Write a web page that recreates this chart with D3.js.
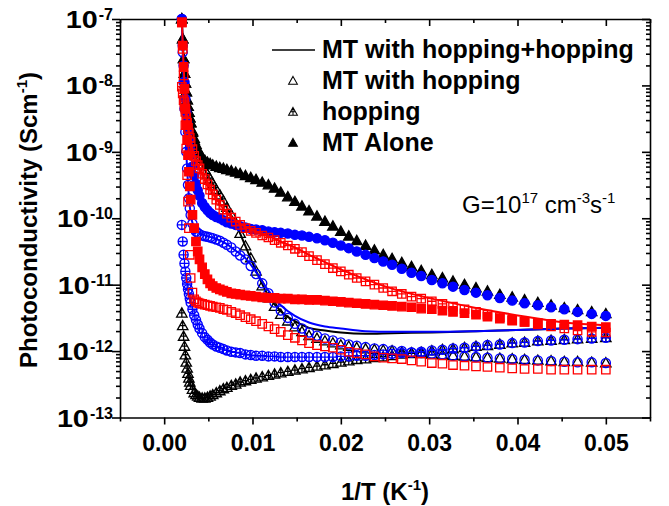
<!DOCTYPE html>
<meta charset="utf-8">
<style>
body { margin: 0; background: #fff; }
svg text { font-family: "Liberation Sans", Arial, sans-serif; fill: #000; }
.axis path, .axis line { stroke: #000; stroke-width: 1.6; }
</style>
<body>
<script src="https://d3js.org/d3.v7.min.js"></script>
<script>

// 1/T (K^-1) of the marker points
var invT = [0.0020, 0.0021, 0.0022, 0.0023, 0.0024, 0.0025, 0.0026, 0.0027, 0.0028, 0.0029, 0.0030,
  0.0032, 0.0034, 0.0036, 0.0038, 0.0040,
  0.0043, 0.0046, 0.0049, 0.0052, 0.0055,
  0.0059, 0.0063, 0.0067, 0.0071,
  0.0076, 0.0081, 0.0086,
  0.0092, 0.0098,
  0.0104, 0.0111, 0.0118, 0.0125, 0.0132,
  0.0140, 0.0148, 0.0156, 0.0164,
  0.0173, 0.0182, 0.0191, 0.0200,
  0.0209, 0.0218, 0.0228, 0.0238, 0.0248, 0.0258,
  0.0269, 0.0280, 0.0291, 0.0303, 0.0315, 0.0327,
  0.0340, 0.0353, 0.0366, 0.0380, 0.0394, 0.0408,
  0.0423, 0.0438, 0.0453, 0.0468, 0.0484, 0.0500];

// log10 of photoconductivity (S/cm), one value per invT entry
var blackAlone = [-7.00, -7.30, -7.60, -7.82, -7.97, -8.10, -8.22, -8.32, -8.41, -8.49, -8.56,
  -8.69, -8.80, -8.89, -8.96, -9.02,
  -9.08, -9.13, -9.16, -9.18, -9.20,
  -9.22, -9.24, -9.25, -9.27,
  -9.29, -9.31, -9.33,
  -9.36, -9.39,
  -9.42, -9.46, -9.50, -9.55, -9.61,
  -9.68, -9.75, -9.82, -9.89,
  -9.97, -10.05, -10.12, -10.20,
  -10.27, -10.34, -10.41, -10.48, -10.55, -10.61,
  -10.67, -10.73, -10.79, -10.85, -10.90, -10.95,
  -11.00, -11.05, -11.10, -11.15, -11.19, -11.23,
  -11.27, -11.31, -11.35, -11.38, -11.41, -11.44];

var blackWith = [-7.00, -7.30, -7.60, -7.82, -7.97, -8.10, -8.22, -8.32, -8.41, -8.49, -8.57,
  -8.71, -8.83, -8.93, -9.02, -9.10,
  -9.19, -9.27, -9.34, -9.41, -9.48,
  -9.57, -9.65, -9.74, -9.84,
  -9.95, -10.08, -10.23,
  -10.42, -10.60,
  -10.80, -11.02, -11.20, -11.33, -11.45,
  -11.55, -11.64, -11.71, -11.77,
  -11.81, -11.85, -11.88, -11.91,
  -11.93, -11.95, -11.97, -11.98, -11.99, -12.00,
  -12.02, -12.03, -12.04, -12.05, -12.06, -12.07,
  -12.08, -12.09, -12.10, -12.11, -12.12, -12.13,
  -12.14, -12.15, -12.16, -12.16, -12.17, -12.18];

var blackHop = [-11.43, -11.62, -11.78, -11.93, -12.06, -12.17, -12.26, -12.34, -12.41, -12.47, -12.52,
  -12.58, -12.63, -12.66, -12.68, -12.70,
  -12.71, -12.71, -12.70, -12.68, -12.66,
  -12.63, -12.60, -12.57, -12.55,
  -12.52, -12.50, -12.47,
  -12.45, -12.43,
  -12.41, -12.39, -12.37, -12.35, -12.33,
  -12.31, -12.29, -12.27, -12.25,
  -12.23, -12.21, -12.19, -12.17,
  -12.15, -12.13, -12.12, -12.10, -12.09, -12.07,
  -12.05, -12.04, -12.02, -12.00, -11.98, -11.97,
  -11.95, -11.93, -11.92, -11.90, -11.88, -11.87,
  -11.85, -11.84, -11.83, -11.82, -11.81, -11.80];

var blueAlone = [-7.00, -7.40, -7.70, -7.95, -8.20, -8.40, -8.55, -8.70, -8.83, -8.95, -9.05,
  -9.22, -9.36, -9.48, -9.58, -9.66,
  -9.77, -9.83, -9.88, -9.92, -9.95,
  -9.98, -10.00, -10.03, -10.06,
  -10.08, -10.10, -10.12,
  -10.14, -10.16,
  -10.17, -10.18, -10.20, -10.21, -10.22,
  -10.23, -10.25, -10.26, -10.28,
  -10.30, -10.33, -10.37, -10.41,
  -10.45, -10.50, -10.55, -10.60, -10.65, -10.70,
  -10.76, -10.82, -10.87, -10.93, -10.98, -11.03,
  -11.08, -11.12, -11.16, -11.20, -11.24, -11.28,
  -11.31, -11.34, -11.37, -11.41, -11.44, -11.47];

var blueWith = [-7.00, -7.50, -7.95, -8.35, -8.70, -9.00, -9.25, -9.50, -9.70, -9.85, -9.95,
  -10.08, -10.16, -10.20, -10.22, -10.24,
  -10.26, -10.27, -10.28, -10.29, -10.30,
  -10.32, -10.34, -10.37, -10.40,
  -10.44, -10.50, -10.56,
  -10.62, -10.72,
  -10.84, -10.98, -11.13, -11.27, -11.39,
  -11.50, -11.59, -11.66, -11.72,
  -11.77, -11.81, -11.84, -11.87,
  -11.90, -11.92, -11.94, -11.96, -11.97, -11.99,
  -12.00, -12.02, -12.03, -12.04, -12.05, -12.07,
  -12.08, -12.09, -12.10, -12.11, -12.12, -12.13,
  -12.14, -12.15, -12.16, -12.17, -12.17, -12.18];

var blueHop = [-10.10, -10.35, -10.55, -10.68, -10.80, -10.90, -10.99, -11.07, -11.14, -11.21, -11.27,
  -11.37, -11.46, -11.53, -11.60, -11.66,
  -11.73, -11.79, -11.83, -11.87, -11.90,
  -11.93, -11.95, -11.97, -11.99,
  -12.01, -12.02, -12.03,
  -12.05, -12.06,
  -12.07, -12.07, -12.08, -12.08, -12.09,
  -12.09, -12.09, -12.09, -12.09,
  -12.09, -12.09, -12.09, -12.08,
  -12.08, -12.07, -12.07, -12.06, -12.05, -12.04,
  -12.03, -12.02, -12.01, -11.99, -11.98, -11.96,
  -11.95, -11.93, -11.91, -11.90, -11.88, -11.87,
  -11.85, -11.84, -11.83, -11.82, -11.81, -11.80];

var redAlone = [-7.05, -7.40, -7.72, -8.05, -8.35, -8.60, -8.82, -9.05, -9.30, -9.52, -9.72,
  -9.95, -10.15, -10.35, -10.50, -10.62,
  -10.74, -10.84, -10.92, -10.98, -11.02,
  -11.05, -11.07, -11.09, -11.11,
  -11.13, -11.14, -11.15,
  -11.16, -11.17,
  -11.18, -11.19, -11.20, -11.20, -11.21,
  -11.21, -11.22, -11.22, -11.23,
  -11.23, -11.24, -11.25, -11.26,
  -11.27, -11.28, -11.29, -11.30, -11.31, -11.32,
  -11.33, -11.34, -11.36, -11.37, -11.39, -11.41,
  -11.43, -11.45, -11.48, -11.51, -11.54, -11.56,
  -11.58, -11.59, -11.60, -11.61, -11.63, -11.64];

var redWith = [-7.05, -7.45, -7.85, -8.25, -8.60, -8.95, -9.35, -9.75, -10.15, -10.55, -10.90,
  -11.12, -11.22, -11.25, -11.27, -11.28,
  -11.29, -11.30, -11.31, -11.32, -11.33,
  -11.34, -11.35, -11.37, -11.38,
  -11.41, -11.43, -11.46,
  -11.49, -11.52,
  -11.55, -11.59, -11.63, -11.67, -11.71,
  -11.76, -11.80, -11.84, -11.88,
  -11.91, -11.93, -11.95, -11.98,
  -12.01, -12.03, -12.05, -12.08, -12.10, -12.11,
  -12.12, -12.14, -12.16, -12.18, -12.19, -12.21,
  -12.22, -12.23, -12.24, -12.25, -12.26, -12.27,
  -12.27, -12.28, -12.28, -12.28, -12.28, -12.28];

var redHop = [-8.02, -8.12, -8.22, -8.31, -8.40, -8.48, -8.56, -8.64, -8.72, -8.79, -8.85,
  -8.96, -9.06, -9.14, -9.20, -9.25,
  -9.33, -9.41, -9.49, -9.57, -9.64,
  -9.72, -9.80, -9.87, -9.93,
  -9.99, -10.05, -10.10,
  -10.15, -10.19,
  -10.22, -10.26, -10.29, -10.33, -10.37,
  -10.41, -10.46, -10.51, -10.57,
  -10.63, -10.69, -10.75, -10.80,
  -10.85, -10.90, -10.95, -11.00, -11.05, -11.10,
  -11.14, -11.18, -11.21, -11.25, -11.29, -11.33,
  -11.37, -11.41, -11.45, -11.49, -11.53, -11.56,
  -11.60, -11.63, -11.66, -11.69, -11.71, -11.72];

// solid "MT with hopping+hopping" curves, read on a coarser grid
var lineInvT = [0.0020, 0.0021, 0.0022, 0.0023, 0.0024, 0.0025, 0.0026, 0.0027, 0.0028, 0.0030,
  0.0034, 0.0040, 0.0049, 0.0059, 0.0071, 0.0081, 0.0092, 0.0104, 0.0118, 0.0132,
  0.0148, 0.0164, 0.0182, 0.0200, 0.0228, 0.0258, 0.0303, 0.0353, 0.0408, 0.0453, 0.0500];
var blackSum = [-7.00, -7.30, -7.60, -7.82, -7.97, -8.10, -8.22, -8.32, -8.41, -8.57,
  -8.83, -9.10, -9.34, -9.57, -9.84, -10.08, -10.42, -10.79, -11.17, -11.40,
  -11.55, -11.65, -11.69, -11.72, -11.74, -11.73, -11.72, -11.70, -11.68, -11.66, -11.65];
var blueSum = [-7.00, -7.50, -7.95, -8.35, -8.70, -9.00, -9.25, -9.49, -9.68, -9.93,
  -10.14, -10.22, -10.27, -10.31, -10.39, -10.49, -10.60, -10.81, -11.09, -11.31,
  -11.47, -11.57, -11.63, -11.66, -11.70, -11.71, -11.71, -11.70, -11.68, -11.66, -11.65];
var redSum = [-7.00, -7.37, -7.70, -7.98, -8.19, -8.35, -8.48, -8.59, -8.69, -8.85,
  -9.06, -9.25, -9.48, -9.71, -9.92, -10.04, -10.13, -10.20, -10.27, -10.35,
  -10.44, -10.55, -10.66, -10.77, -10.92, -11.06, -11.21, -11.35, -11.48, -11.57, -11.61];

var xTicks = [0, 0.01, 0.02, 0.03, 0.04, 0.05];
var xTickLabels = ["0.00", "0.01", "0.02", "0.03", "0.04", "0.05"];
var xMinorTicks = [-0.005, 0.005, 0.015, 0.025, 0.035, 0.045, 0.055];
var yExponents = [-13, -12, -11, -10, -9, -8, -7];
var legendLabels = ["MT with hopping+hopping", "MT with hopping", "hopping", "MT Alone"];

var width = 669, height = 506;
var plotL = 120, plotR = 650, plotT = 19, plotB = 417.5;

var svg = d3.select("body").append("svg")
    .attr("width", width)
    .attr("height", height);

var x = d3.scaleLinear().domain([-0.005, 0.055]).range([plotL, plotR]);
var y = d3.scaleLog().domain([1e-13, 1e-7]).range([plotB, plotT]);

var yMajor = yExponents.map(function(e) { return Math.pow(10, e); });
var yMinor = y.ticks().filter(function(d) {
  var l = Math.log10(d);
  return Math.abs(l - Math.round(l)) > 1e-6;
});

function addAxis(axis, tx, ty, keepDomain) {
  var g = svg.append("g").attr("class", "axis")
      .attr("transform", "translate(" + tx + "," + ty + ")")
      .call(axis);
  if (!keepDomain) g.select(".domain").remove();
  return g;
}

// bottom
var gx = addAxis(d3.axisBottom(x).tickValues(xTicks).tickSize(7).tickSizeOuter(0).tickPadding(10)
    .tickFormat(function(d, i) { return xTickLabels[i]; }), 0, plotB, true);
gx.selectAll("text").style("font-size", "23px").style("font-weight", "bold");
addAxis(d3.axisBottom(x).tickValues(xMinorTicks).tickSize(4).tickFormat(""), 0, plotB, false);
// top (ticks inward)
addAxis(d3.axisTop(x).tickValues(xTicks).tickSize(-7).tickSizeOuter(0).tickFormat(""), 0, plotT, true);
addAxis(d3.axisTop(x).tickValues(xMinorTicks).tickSize(-4).tickFormat(""), 0, plotT, false);
// left
addAxis(d3.axisLeft(y).tickValues(yMajor).tickSize(8).tickSizeOuter(0).tickFormat(""), plotL, 0, true);
addAxis(d3.axisLeft(y).tickValues(yMinor).tickSize(4).tickFormat(""), plotL, 0, false);
// right (ticks inward)
addAxis(d3.axisRight(y).tickValues(yMajor).tickSize(-8).tickSizeOuter(0).tickFormat(""), plotR, 0, true);
addAxis(d3.axisRight(y).tickValues(yMinor).tickSize(-4).tickFormat(""), plotR, 0, false);

// y tick labels 10^n
yExponents.forEach(function(e) {
  var yy = y(Math.pow(10, e));
  var ex = svg.append("text")
      .attr("x", 113).attr("y", yy + 1)
      .attr("text-anchor", "end")
      .style("font-size", "16px").style("font-weight", "bold")
      .text(String(e));
  var w = ex.node().getComputedTextLength();
  svg.append("text")
      .attr("x", 113 - w - 33).attr("y", yy + 9)
      .attr("textLength", 32).attr("lengthAdjust", "spacingAndGlyphs")
      .style("font-size", "24px").style("font-weight", "bold")
      .text("10");
});

// axis titles
var yt = svg.append("text")
    .attr("transform", "translate(37,220) rotate(-90)")
    .attr("text-anchor", "middle")
    .style("font-size", "24px").style("font-weight", "bold");
yt.append("tspan").text("Photoconductivity (Scm");
yt.append("tspan").attr("dy", -10).style("font-size", "15px").text("-1");
yt.append("tspan").attr("dy", 10).text(")");

var xt = svg.append("text")
    .attr("x", (plotL + plotR) / 2).attr("y", 500)
    .attr("text-anchor", "middle")
    .style("font-size", "24px").style("font-weight", "bold");
xt.append("tspan").text("1/T (K");
xt.append("tspan").attr("dy", -10).style("font-size", "15px").text("-1");
xt.append("tspan").attr("dy", 10).text(")");

var gt = svg.append("text")
    .attr("x", 462).attr("y", 213)
    .style("font-size", "24px");
gt.append("tspan").text("G=10");
gt.append("tspan").attr("dy", -10).style("font-size", "15px").text("17");
gt.append("tspan").attr("dy", 10).text("\u00A0cm");
gt.append("tspan").attr("dy", -10).style("font-size", "15px").text("-3");
gt.append("tspan").attr("dy", 10).text("s");
gt.append("tspan").attr("dy", -10).style("font-size", "15px").text("-1");

// marker outlines
function shapePath(shape, crossed) {
  var p;
  if (shape === "tri") {
    p = "M0,-5.4L5.2,3.8L-5.2,3.8Z";
    if (crossed) p += "M0,-5.4V3.8M-2.8,-0.3H2.8";
  } else if (shape === "circle") {
    p = "M4.6,0A4.6,4.6 0 1,1 -4.6,0A4.6,4.6 0 1,1 4.6,0Z";
    if (crossed) p += "M-4.6,0H4.6M0,-4.6V4.6";
  } else {
    p = "M-4.2,-4.2H4.2V4.2H-4.2Z";
    if (crossed) p += "M-4.2,0H4.2M0,-4.2V4.2";
  }
  return p;
}

function drawMarkers(vals, color, shape, kind) {
  var pts = invT.map(function(t, i) { return {x: t, y: Math.pow(10, vals[i])}; });
  svg.append("g").selectAll("path")
    .data(pts)
    .enter().append("path")
      .attr("transform", function(d) { return "translate(" + x(d.x) + "," + y(d.y) + ")"; })
      .attr("d", shapePath(shape, kind === "cross"))
      .attr("fill", kind === "fill" ? color : "none")
      .attr("stroke", color)
      .attr("stroke-width", 1.3);
}

var line = d3.line()
    .x(function(d) { return x(d.x); })
    .y(function(d) { return y(d.y); })
    .curve(d3.curveMonotoneX);

function drawLine(vals, color) {
  var pts = lineInvT.map(function(t, i) { return {x: t, y: Math.pow(10, vals[i])}; });
  svg.append("path")
    .datum(pts)
    .attr("d", line)
    .attr("fill", "none")
    .attr("stroke", color)
    .attr("stroke-width", 2);
}

var groups = [
  {color: "#000000", shape: "tri", sum: blackSum, withHop: blackWith, hop: blackHop, alone: blackAlone},
  {color: "#0000ff", shape: "circle", sum: blueSum, withHop: blueWith, hop: blueHop, alone: blueAlone},
  {color: "#ff0000", shape: "square", sum: redSum, withHop: redWith, hop: redHop, alone: redAlone}
];

groups.forEach(function(g) {
  drawLine(g.sum, g.color);
  drawMarkers(g.withHop, g.color, g.shape, "open");
  drawMarkers(g.hop, g.color, g.shape, "cross");
  drawMarkers(g.alone, g.color, g.shape, "fill");
});

// legend
var legendBase = [58, 89, 120, 151];
var lg = svg.append("g");
lg.append("line")
    .attr("x1", 272).attr("x2", 315)
    .attr("y1", legendBase[0] - 8).attr("y2", legendBase[0] - 8)
    .attr("stroke", "#000").attr("stroke-width", 1.6);
[["open", false], ["cross", true], ["fill", false]].forEach(function(k, i) {
  lg.append("path")
    .attr("transform", "translate(293," + (legendBase[i + 1] - 8) + ") scale(0.85)")
    .attr("d", shapePath("tri", k[1]))
    .attr("fill", k[0] === "fill" ? "#000" : "none")
    .attr("stroke", "#000").attr("stroke-width", 1.2);
});
legendLabels.forEach(function(t, i) {
  lg.append("text")
    .attr("x", 322).attr("y", legendBase[i])
    .style("font-size", "25px").style("font-weight", "bold")
    .text(t);
});

</script>
</body>
